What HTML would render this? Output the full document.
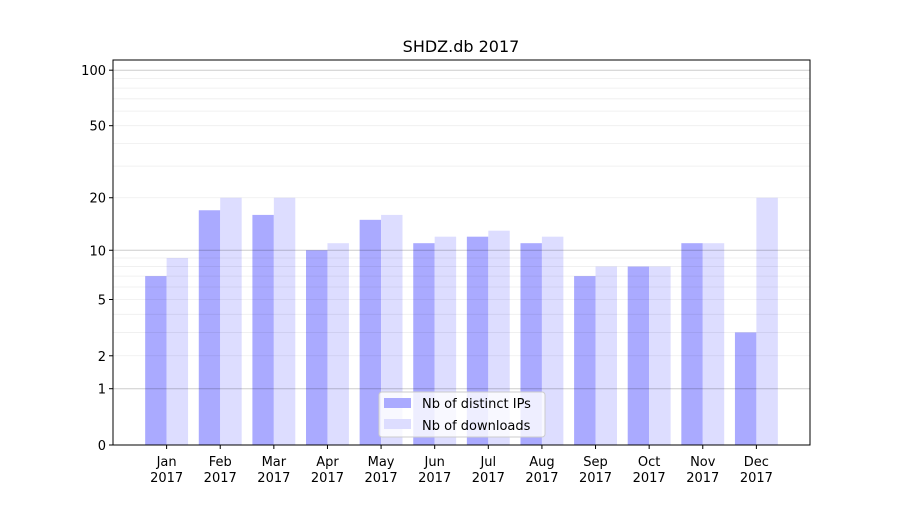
<!DOCTYPE html>
<html><head><meta charset="utf-8"><style>
body{margin:0;background:#fff;}
svg text{font-family:"DejaVu Sans","Liberation Sans",sans-serif;fill:#000;}
</style></head><body>
<svg id="chart" width="900" height="500" xmlns="http://www.w3.org/2000/svg">
<rect width="900" height="500" fill="#fff"/>
<text x="461" y="52" font-size="16" text-anchor="middle">SHDZ.db 2017</text>
<g id="bars"></g><g id="grid"></g><g id="axes"></g>
</svg>
<script>
const months = ["Jan","Feb","Mar","Apr","May","Jun","Jul","Aug","Sep","Oct","Nov","Dec"];
const ipValues = [7,17,16,10,15,11,12,11,7,8,11,3];
const downloadValues = [9,20,20,11,16,12,13,12,8,8,11,20];
const yTicks = [0,1,2,5,10,20,50,100];
const minorTicks = [2,3,4,5,6,7,8,9,20,30,40,50,60,70,80,90];
const majorGrid = [1,10,100];

const NS="http://www.w3.org/2000/svg";
const L=113,R=810,T=60,B=445;
function y(v){return B-187*Math.log10(v+1);}
function xc(i){return L+(R-L)/13*(i+1);}
function mk(tag,attrs,parent){const e=document.createElementNS(NS,tag);for(const k in attrs)e.setAttribute(k,attrs[k]);document.getElementById(parent).appendChild(e);return e;}

minorTicks.forEach(v=>{const l=mk('line',{x1:L,x2:R,y1:y(v),y2:y(v),stroke:'#000','stroke-opacity':0.07,'stroke-width':0.8},'grid');

});
majorGrid.forEach(v=>{const l=mk('line',{x1:L,x2:R,y1:y(v),y2:y(v),stroke:'#000','stroke-opacity':0.2,'stroke-width':1},'grid');

});

const bw=(R-L)/13*0.4;
months.forEach((m,i)=>{
 const c=xc(i);
 const b1=mk('rect',{x:c-bw,y:y(ipValues[i]),width:bw,height:B-y(ipValues[i]),fill:'#aaaaff'},'bars');
 
 
 const b2=mk('rect',{x:c,y:y(downloadValues[i]),width:bw,height:B-y(downloadValues[i]),fill:'#ddddff'},'bars');
 
 
 mk('line',{x1:c,x2:c,y1:B,y2:B+4,stroke:'#000'},'axes');
 const t=mk('text',{x:c,y:B+21,'font-size':13,'text-anchor':'middle'},'axes');
 t.textContent=m;
 
 
 const t2=mk('text',{x:c,y:B+37,'font-size':13,'text-anchor':'middle'},'axes');
 t2.textContent='2017';
 
 
});
yTicks.forEach(v=>{
 mk('line',{x1:L-4,x2:L,y1:y(v),y2:y(v),stroke:'#000'},'axes');
 const t=mk('text',{x:L-7,y:y(v)+5,'font-size':13,'text-anchor':'end'},'axes');
 t.textContent=v;
 
 
});
const frame=mk('rect',{x:L,y:T,width:R-L,height:B-T,fill:'none',stroke:'#000','stroke-width':1},'axes');



const lg=mk('g',{},'axes');


mk('rect',{x:379,y:392,width:166,height:45,rx:3,fill:'#fff','fill-opacity':0.8,stroke:'#ccc'},'axes');
mk('rect',{x:384,y:398,width:27,height:10,fill:'#aaaaff'},'axes');
mk('rect',{x:384,y:419,width:27,height:10,fill:'#ddddff'},'axes');
const e1=mk('text',{x:422,y:408,'font-size':13},'axes');e1.textContent='Nb of distinct IPs';


const e2=mk('text',{x:422,y:430,'font-size':13},'axes');e2.textContent='Nb of downloads';


</script>
</body></html>
